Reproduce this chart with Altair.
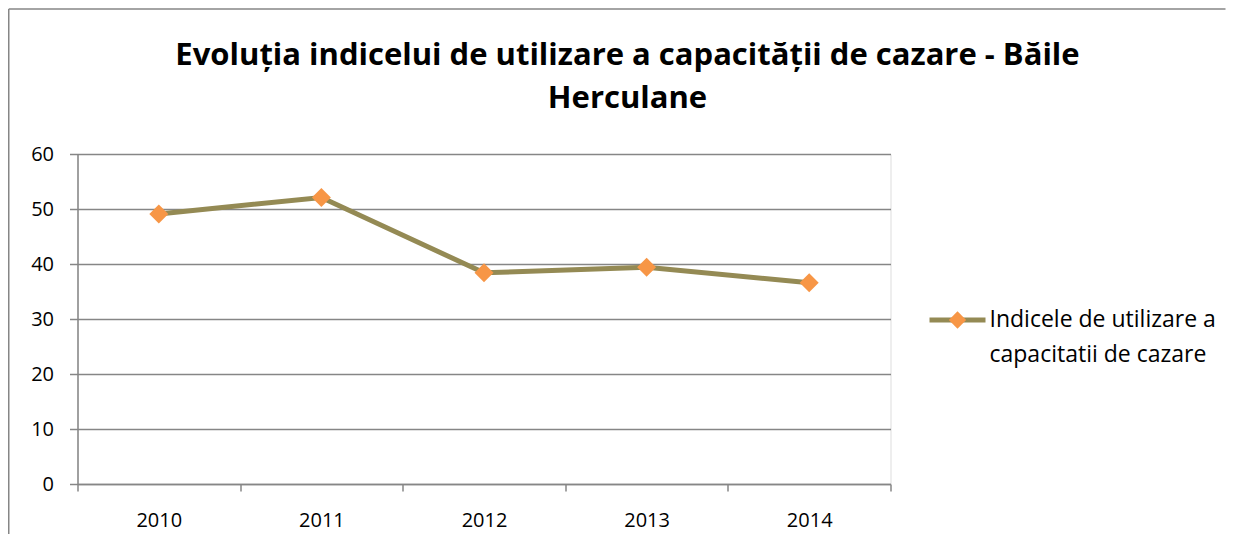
import altair as alt
import pandas as pd

years = ["2010", "2011", "2012", "2013", "2014"]
values = [49.1, 52.1, 38.4, 39.4, 36.6]
series_name = ["Indicele de utilizare a", "capacitatii de cazare"]
title_lines = ["Evoluția indicelui de utilizare a capacității de cazare - Băile", "Herculane"]
y_ticks = [0, 10, 20, 30, 40, 50, 60]

LINE = "#948A54"
MARK = "#F79646"
GRID = "#868686"
FONT = "Open Sans"

df = pd.DataFrame({"year": years, "value": values})

W, H = 813, 330
PAD_L, PAD_T, PAD_R, PAD_B = 69.5, 146, 335, 50

x_enc = alt.X("year:O", sort=years,
              scale=alt.Scale(type="band", paddingInner=0, paddingOuter=0),
              axis=alt.Axis(title=None, labelAngle=0, tickBand="extent", grid=False,
                            domainColor=GRID, domainWidth=1.5, tickColor=GRID, tickWidth=1.5,
                            tickSize=7, labelPadding=19, labelFont=FONT, labelFontSize=20,
                            labelColor="#000000"))
y_enc = alt.Y("value:Q", scale=alt.Scale(domain=[0, 60], nice=False),
              axis=alt.Axis(title=None, values=y_ticks, grid=True, gridColor=GRID, gridWidth=1.5,
                            domainColor=GRID, domainWidth=1.5, tickColor=GRID, tickWidth=1.5,
                            tickSize=8, labelPadding=16, labelFont=FONT, labelFontSize=20,
                            labelColor="#000000"))

base = alt.Chart(df)
line = base.mark_line(color=LINE, strokeWidth=5).encode(x=x_enc, y=y_enc)
pts = base.mark_point(shape="diamond", filled=True, color=MARK, size=360, opacity=1).encode(x=x_enc, y=y_enc)

# outer frame (left and top edges)
one = pd.DataFrame({"a": [0]})
frame_left = alt.Chart(one).mark_rule(color=GRID, strokeWidth=1.5).encode(
    x=alt.value(-68.75), y=alt.value(-145), y2=alt.value(H + PAD_B))
frame_top = alt.Chart(one).mark_rule(color=GRID, strokeWidth=1.5).encode(
    x=alt.value(-68.75), x2=alt.value(W + PAD_R), y=alt.value(-145))

# title
title_df = pd.DataFrame({"t": ["\n".join(title_lines)]})
title = alt.Chart(title_df).mark_text(align="center", baseline="alphabetic", font=FONT, fontSize=31,
                                      fontWeight="bold", lineBreak="\n", lineHeight=43,
                                      color="#000000").encode(
    x=alt.value(550), y=alt.value(-89), text="t:N")

# legend
leg_df = pd.DataFrame({"name": ["\n".join(series_name)]})
leg_line = alt.Chart(leg_df).mark_rule(color=LINE, strokeWidth=5).encode(
    x=alt.value(852), x2=alt.value(908), y=alt.value(166))
leg_pt = alt.Chart(leg_df).mark_point(shape="diamond", filled=True, color=MARK, size=300, opacity=1).encode(
    x=alt.value(880), y=alt.value(166))
leg_txt = alt.Chart(leg_df).mark_text(align="left", baseline="middle", font=FONT, fontSize=23,
                                      lineBreak="\n", lineHeight=35, color="#000000").encode(
    x=alt.value(912), y=alt.value(166), text="name:N")

chart = alt.layer(frame_left, frame_top, title, line, pts, leg_line, leg_pt, leg_txt).properties(
    width=W, height=H,
    autosize=alt.AutoSizeParams(type="none"),
    padding={"left": PAD_L, "top": PAD_T, "right": PAD_R, "bottom": PAD_B},
).configure_view(stroke=None).configure(background="white")

chart.save("out.html", embed_options={"renderer": "svg", "actions": False})
